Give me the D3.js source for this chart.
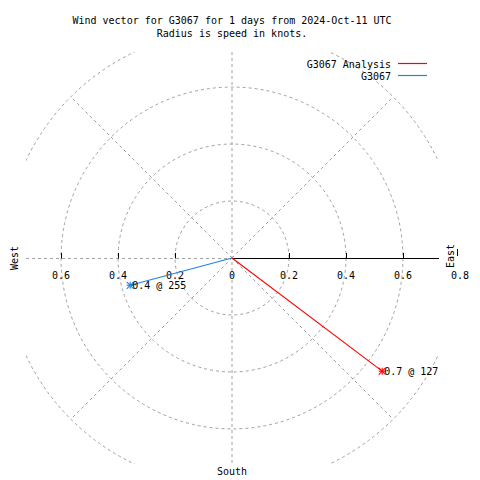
<!DOCTYPE html>
<html>
<head>
<meta charset="utf-8">
<script src="https://cdn.jsdelivr.net/npm/d3@7"></script>
<style>
  html, body { margin: 0; padding: 0; background: #fff; }
  svg { display: block; }
  text { font-family: "DejaVu Sans Mono", "Liberation Mono", monospace; font-size: 10px; fill: #000; }
</style>
</head>
<body>
<script>
// ---- data ----
const titleLines = ["Wind vector for G3067 for 1 days from 2024-Oct-11 UTC", "Radius is speed in knots."];
const seriesNames = ["G3067 Analysis", "G3067"];
const speeds = [0.66, 0.37];          // knots
const directions = [127, 255];        // degrees, compass
const seriesColors = ["#ff0000", "#1e82e6"];
const ringValues = [0.2, 0.4, 0.6, 0.8];
const spokeAngles = [45, 135, 225, 315];
const westTicks = [0.2, 0.4, 0.6];
const eastTicks = [0.2, 0.4, 0.6, 0.8];
const axisLimit = 0.723;

// ---- layout ----
const W = 480, H = 480;
const svg = d3.select("body").append("svg").attr("width", W).attr("height", H);

const xs = d3.scaleLinear().domain([-axisLimit, axisLimit]).range([26, 438]);
const ys = d3.scaleLinear().domain([-axisLimit, axisLimit]).range([464, 52]);
const rs = d3.scaleLinear().domain([0, 1]).range([0, xs(1) - xs(0)]);
const cx = xs(0), cy = ys(0);
const grey = "#a0a0a0";
const dash = "3,3";

svg.append("defs").append("clipPath").attr("id", "plotclip")
  .append("rect").attr("x", xs(-axisLimit)).attr("y", ys(axisLimit))
  .attr("width", xs(axisLimit) - xs(-axisLimit)).attr("height", ys(-axisLimit) - ys(axisLimit));

const grid = svg.append("g").attr("clip-path", "url(#plotclip)");

// rings
grid.selectAll("circle.ring").data(ringValues).join("circle")
  .attr("class", "ring")
  .attr("cx", cx).attr("cy", cy).attr("r", d => rs(d))
  .attr("fill", "none").attr("stroke", grey).attr("stroke-dasharray", dash);

// diagonal spokes
grid.selectAll("line.spoke").data(spokeAngles).join("line")
  .attr("class", "spoke")
  .attr("x1", cx).attr("y1", cy)
  .attr("x2", d => xs(d3.max(ringValues) * Math.sin(d * Math.PI / 180)))
  .attr("y2", d => ys(d3.max(ringValues) * Math.cos(d * Math.PI / 180)))
  .attr("stroke", grey).attr("stroke-dasharray", dash);

// vertical axis (dashed) and west horizontal (dashed)
grid.append("line")
  .attr("x1", cx).attr("x2", cx).attr("y1", ys(axisLimit)).attr("y2", ys(-axisLimit))
  .attr("stroke", grey).attr("stroke-dasharray", dash);
grid.append("line")
  .attr("x1", xs(-axisLimit)).attr("x2", cx).attr("y1", cy + 0.5).attr("y2", cy + 0.5)
  .attr("stroke", grey).attr("stroke-dasharray", dash);

// east axis (solid black)
svg.append("line")
  .attr("x1", cx).attr("x2", xs(axisLimit) + 1).attr("y1", cy + 0.5).attr("y2", cy + 0.5)
  .attr("stroke", "#000").attr("stroke-width", 1);

// tick marks
const tickVals = westTicks.map(v => -v).concat(eastTicks.filter(v => v < axisLimit));
svg.selectAll("line.tick").data(tickVals).join("line")
  .attr("class", "tick")
  .attr("x1", d => Math.round(xs(d)) + 0.5).attr("x2", d => Math.round(xs(d)) + 0.5)
  .attr("y1", cy - 5).attr("y2", cy + 0.5)
  .attr("stroke", "#000");
// end tick near the east label
svg.append("line")
  .attr("x1", Math.round(xs(0.79)) + 0.5).attr("x2", Math.round(xs(0.79)) + 0.5)
  .attr("y1", cy - 9).attr("y2", cy - 2)
  .attr("stroke", "#000");

// tick labels
const fmt = d => d === 0 ? "0" : d3.format(".1f")(d);
const labelVals = westTicks.map(v => -v).concat([0]).concat(eastTicks);
svg.selectAll("text.tl").data(labelVals).join("text")
  .attr("class", "tl")
  .attr("x", d => xs(d)).attr("y", cy + 21)
  .attr("text-anchor", "middle")
  .text(d => fmt(Math.abs(d)));

// direction labels
svg.append("text").attr("transform", `translate(${xs(-axisLimit) - 8},${cy}) rotate(-90)`)
  .attr("text-anchor", "middle").text("West");
svg.append("text").attr("transform", `translate(${xs(axisLimit) + 16},${cy - 2}) rotate(-90)`)
  .attr("text-anchor", "middle").text("East");
svg.append("text").attr("x", cx).attr("y", ys(-axisLimit) + 11)
  .attr("text-anchor", "middle").text("South");

// title
svg.selectAll("text.title").data(titleLines).join("text")
  .attr("class", "title")
  .attr("x", 232).attr("y", (d, i) => 24 + i * 13)
  .attr("text-anchor", "middle").text(d => d);

// vectors
const vecs = speeds.map((s, i) => {
  const a = directions[i] * Math.PI / 180;
  return { s, dir: directions[i], color: seriesColors[i],
           x: xs(s * Math.sin(a)), y: ys(s * Math.cos(a)) };
});

// draw in reverse so analysis (red) on top
const vg = svg.append("g");
vecs.slice().reverse().forEach(v => {
  vg.append("line").attr("x1", cx).attr("y1", cy).attr("x2", v.x).attr("y2", v.y)
    .attr("stroke", v.color).attr("stroke-width", 1.1);
  const m = 3.5;
  const star = vg.append("g").attr("stroke", v.color).attr("stroke-width", 1.1);
  star.append("line").attr("x1", v.x - m).attr("x2", v.x + m).attr("y1", v.y).attr("y2", v.y);
  star.append("line").attr("x1", v.x).attr("x2", v.x).attr("y1", v.y - m).attr("y2", v.y + m);
  star.append("line").attr("x1", v.x - m).attr("x2", v.x + m).attr("y1", v.y - m).attr("y2", v.y + m);
  star.append("line").attr("x1", v.x - m).attr("x2", v.x + m).attr("y1", v.y + m).attr("y2", v.y - m);
  vg.append("text").attr("x", v.x + 2).attr("y", v.y + 4)
    .text(`${d3.format(".1f")(v.s)} @ ${v.dir}`);
});

// legend
const lg = svg.append("g");
seriesNames.forEach((n, i) => {
  const y = 64 + i * 12;
  lg.append("text").attr("x", 391).attr("y", y + 4).attr("text-anchor", "end").text(n);
  lg.append("line").attr("x1", 398).attr("x2", 427).attr("y1", y - 0.5).attr("y2", y - 0.5)
    .attr("stroke", seriesColors[i]).attr("stroke-width", 1.2);
});
</script>
</body>
</html>
